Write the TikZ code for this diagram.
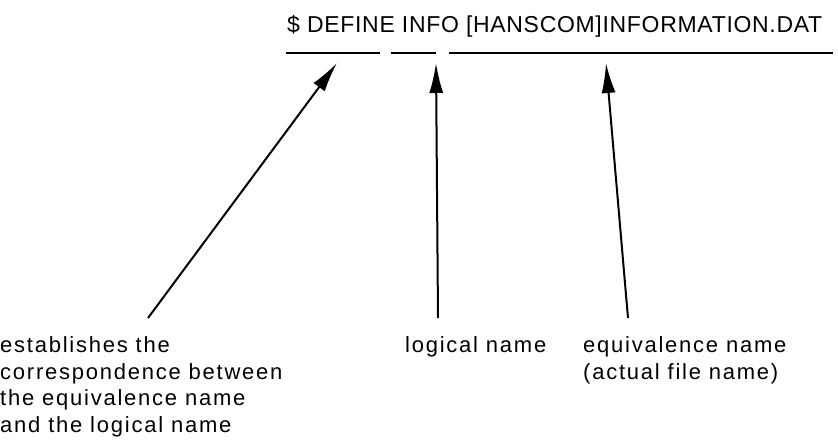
\documentclass[tikz,border=0pt]{standalone}
\usepackage{fontspec}
\setmainfont{Liberation Sans}[LetterSpace=8]
\newfontfamily\cmdfont{Liberation Sans}[LetterSpace=3]
\usetikzlibrary{arrows.meta}
\begin{document}
\begin{tikzpicture}[x=1pt,y=-1pt,
  lbl/.style={anchor=base west,inner sep=0pt,font=\fontsize{22}{26.5}\selectfont,align=left},
  uline/.style={line width=2.2pt},
  pointer/.style={line width=2pt,-{Latex[length=30pt,width=14pt]}}]
\useasboundingbox (0,0) rectangle (838,440);
\node[lbl,font=\cmdfont\fontsize{23}{26}\selectfont] (cmd) at (287,32) {\$ DEFINE INFO [HANSCOM]INFORMATION.DAT};
\coordinate (u1a) at (286,53); \coordinate (u1b) at (380,53);
\coordinate (u2a) at (391,53); \coordinate (u2b) at (436,53);
\coordinate (u3a) at (449,53); \coordinate (u3b) at (833,53);
\draw[uline] (u1a) -- (u1b);
\draw[uline] (u2a) -- (u2b);
\draw[uline] (u3a) -- (u3b);
\node[lbl] (est) at (0,432) {establishes the\\correspondence between\\the equivalence name\\and the logical name};
\node[lbl] (log) at (405,352) {logical name};
\node[lbl] (eqv) at (583,379) {equivalence name\\(actual file name)};
\coordinate (t1) at (337,63); \coordinate (s1) at (148,318);
\coordinate (t2) at (436,63); \coordinate (s2) at (438,318);
\coordinate (t3) at (606,63); \coordinate (s3) at (628,318);
\draw[pointer] (s1) -- (t1);
\draw[pointer] (s2) -- (t2);
\draw[pointer] (s3) -- (t3);
\end{tikzpicture}
\end{document}
